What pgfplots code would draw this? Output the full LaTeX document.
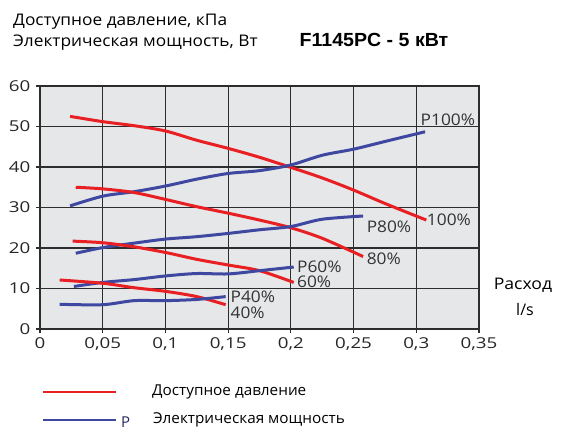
\documentclass[border=0pt]{standalone}
\usepackage{pgfplots}
\pgfplotsset{compat=1.18}
\usepackage{fontspec}
\setmainfont{Open Sans}
\newfontfamily\titlefont{Liberation Sans}
\definecolor{cred}{RGB}{232,32,36}
\definecolor{cblue}{RGB}{62,72,160}
\definecolor{cbg}{RGB}{230,231,233}
\definecolor{cgrid}{RGB}{45,45,45}
\begin{document}
\begin{tikzpicture}[x=1pt,y=1pt]
\useasboundingbox (-40,-113) rectangle (521,329);
\begin{axis}[
  at={(0,0)}, anchor=origin,
  scale only axis, width=439pt, height=243pt,
  xmin=0, xmax=0.35, ymin=0, ymax=60,
  xtick={0,0.05,0.1,0.15,0.2,0.25,0.3,0.35},
  xticklabels={0,{0,05},{0,1},{0,15},{0,2},{0,25},{0,3},{0,35}},
  ytick={0,10,20,30,40,50,60},
  yticklabels={0,10,20,30,40,50,60},
  grid=major,
  major grid style={draw=cgrid, line width=1.1pt},
  axis background/.style={fill=cbg},
  axis line style={draw=cgrid, line width=1.1pt},
  tick style={draw=cgrid, line width=1.1pt},
  major tick length=4pt,
  tick align=outside,
  xtick pos=bottom, ytick pos=left,
  tick label style={font=\fontsize{15}{17}\selectfont, text=black!85, xscale=1.25},
  xticklabel style={yshift=-1pt},
  yticklabel style={xshift=-1pt},
  clip=false,
]
% pressure 100%
\addplot[cred, line width=3pt, smooth] coordinates {
(0.024,52.5)(0.05,51.2)(0.075,50.2)(0.1,48.9)(0.125,46.6)(0.15,44.6)(0.175,42.4)(0.2,39.9)(0.225,37.3)(0.25,34.3)(0.275,31.0)(0.308,26.9)};
% power 100%
\addplot[cblue, line width=3pt, smooth] coordinates {
(0.024,30.4)(0.05,32.8)(0.075,33.9)(0.1,35.3)(0.125,37.0)(0.15,38.4)(0.175,39.1)(0.2,40.5)(0.225,42.9)(0.25,44.4)(0.275,46.3)(0.307,48.7)};
% pressure 80%
\addplot[cred, line width=3pt, smooth] coordinates {
(0.0285,35.0)(0.05,34.6)(0.075,33.7)(0.1,32.0)(0.125,30.2)(0.15,28.6)(0.175,26.9)(0.2,25.0)(0.225,22.4)(0.2576,17.9)};
% power 80%
\addplot[cblue, line width=3pt, smooth] coordinates {
(0.0285,18.7)(0.05,20.1)(0.075,21.2)(0.1,22.2)(0.125,22.8)(0.15,23.6)(0.175,24.5)(0.2,25.3)(0.225,27.1)(0.2576,27.9)};
% pressure 60%
\addplot[cred, line width=3pt, smooth] coordinates {
(0.026,21.7)(0.05,21.3)(0.075,20.3)(0.1,18.9)(0.125,17.2)(0.15,15.8)(0.175,14.4)(0.2023,11.5)};
% power 60%
\addplot[cblue, line width=3pt, smooth] coordinates {
(0.027,10.5)(0.05,11.5)(0.075,12.2)(0.1,13.1)(0.125,13.7)(0.15,13.6)(0.175,14.4)(0.2023,15.3)};
% pressure 40%
\addplot[cred, line width=3pt, smooth] coordinates {
(0.0157,12.1)(0.05,11.3)(0.075,10.2)(0.1,9.3)(0.125,8.0)(0.148,6.0)};
% power 40%
\addplot[cblue, line width=3pt, smooth] coordinates {
(0.0157,6.1)(0.05,6.0)(0.075,7.0)(0.1,7.0)(0.125,7.3)(0.148,8.0)};
% curve labels
\tikzset{clab/.style={anchor=west, font=\fontsize{16}{18}\selectfont, text=black!80, xscale=1.08, inner sep=1pt}}
\node[clab] at (axis cs:0.3025,51.6) {P100\%};
\node[clab] at (axis cs:0.3075,27.0) {100\%};
\node[clab] at (axis cs:0.2595,25.3) {P80\%};
\node[clab] at (axis cs:0.2595,17.3) {80\%};
\node[clab] at (axis cs:0.2040,15.4) {P60\%};
\node[clab] at (axis cs:0.2040,11.6) {60\%};
\node[clab] at (axis cs:0.1510,8.0) {P40\%};
\node[clab] at (axis cs:0.1510,4.1) {40\%};
\end{axis}
% axis titles
\node[anchor=base west, font=\fontsize{16}{18}\selectfont, xscale=1.08, inner sep=0pt] at (-27,303) {Доступное давление, кПа};
\node[anchor=base west, font=\fontsize{16}{18}\selectfont, xscale=1.08, inner sep=0pt] at (-27,282) {Электрическая мощность, Вт};
\node[font=\titlefont\bfseries\fontsize{19}{21}\selectfont, xscale=1.03] at (334,289) {F1145PC - 5 кВт};
\node[font=\fontsize{16}{18}\selectfont, xscale=1.1] at (483,44) {Расход};
\node[font=\fontsize{16}{18}\selectfont] at (485,20) {l/s};
% legend
\draw[cred, line width=2.6pt] (3,-63) -- (76,-63);
\node[anchor=west, font=\fontsize{15}{17}\selectfont, xscale=1.02, inner sep=0pt] at (112,-63) {Доступное давление};
\draw[cblue, line width=2.6pt] (3,-91) -- (76,-91);
\node[anchor=west, font=\fontsize{15}{17}\selectfont, text=cblue!60!black, inner sep=0pt] at (81,-93) {P};
\node[anchor=west, font=\fontsize{15}{17}\selectfont, xscale=1.02, inner sep=0pt] at (113,-91) {Электрическая мощность};
\end{tikzpicture}
\end{document}
